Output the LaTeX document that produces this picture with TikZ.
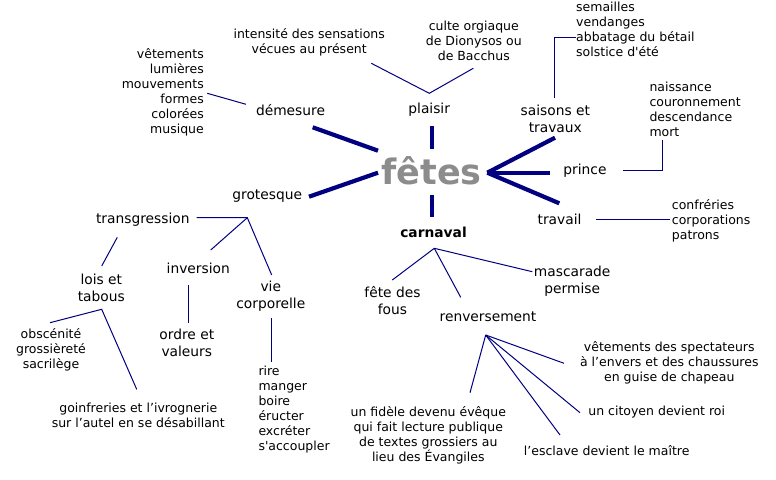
\documentclass[tikz,border=0pt]{standalone}
\usepackage{fontspec}
\setmainfont{DejaVu Sans}
\newfontfamily\dvs{DejaVu Sans}
\definecolor{navy}{HTML}{000080}
\definecolor{fgray}{HTML}{8C8C8C}
\tikzset{
  conn/.style={draw=navy, line width=1pt},
  mainline/.style={draw=navy, line width=4.2pt},
  lbl/.style={font=\dvs\fontsize{13.8}{17}\selectfont, align=center, inner sep=0pt},
  sm/.style={font=\dvs\fontsize{12.5}{15}\selectfont, inner sep=0pt},
}
\begin{document}
\begin{tikzpicture}[x=1pt,y=-1pt]
\useasboundingbox[fill=white] (0,0) rectangle (776,479);
% central
\node[inner sep=0pt, text=fgray, font=\dvs\fontsize{35}{40}\selectfont\bfseries] (fetes) at (431.5,171) {fêtes};
% main labels
\node[lbl] (demesure) at (290.5,110) {démesure};
\node[lbl] (plaisir) at (429.2,110) {plaisir};
\node[lbl] (saisons) at (555.3,119) {saisons et\\travaux};
\node[lbl] (prince) at (585,170.7) {prince};
\node[lbl] (travail) at (559.5,219) {travail};
\node[lbl] (grotesque) at (267.2,196) {grotesque};
\node[lbl, font=\dvs\fontsize{13.8}{17}\selectfont\bfseries] (carnaval) at (433.5,232.7) {carnaval};
% thick connectors
\coordinate (d1) at (312.7,127.3); \coordinate (d2) at (378,150.7);
\coordinate (p1) at (431.7,126); \coordinate (p2) at (431.7,149.3);
\coordinate (g1) at (309,196.7); \coordinate (g2) at (378,172.7);
\coordinate (c1) at (431.7,195); \coordinate (c2) at (431.7,216.7);
\coordinate (rh) at (487.3,172.7);
\coordinate (s1) at (555,137.7); \coordinate (pr1) at (550,172.7); \coordinate (t1) at (559.3,203.3);
\draw[mainline] (d1) -- (d2);
\draw[mainline] (p1) -- (p2);
\draw[mainline] (g1) -- (g2);
\draw[mainline] (c1) -- (c2);
\draw[mainline] (rh) -- (s1);
\draw[mainline] (rh) -- (pr1);
\draw[mainline] (rh) -- (t1);
% démesure
\node[sm, anchor=east, align=right] (demlist) at (204,91.8) {vêtements\\lumières\\mouvements\\formes\\colorées\\musique};
\coordinate (dl1) at (207.3,93.3); \coordinate (dl2) at (246,104.3);
\draw[conn] (dl1) -- (dl2);
% plaisir
\node[sm, align=center] (intensite) at (309.2,42.5) {intensité des sensations\\vécues au présent};
\node[sm, align=center] (culte) at (473.8,40.5) {culte orgiaque\\de Dionysos ou\\de Bacchus};
\coordinate (pl1) at (371.3,63.3); \coordinate (plh) at (429.3,93.3); \coordinate (pl2) at (473.3,68.3);
\draw[conn] (pl1) -- (plh) -- (pl2);
% saisons
\node[sm, anchor=west, align=left] (semailles) at (576,29.7) {semailles\\vendanges\\abbatage du bétail\\solstice d'été};
\coordinate (sa1) at (554,98.3); \coordinate (sa2) at (554,37.7); \coordinate (sa3) at (576,37.7);
\draw[conn] (sa1) -- (sa2) -- (sa3);
% prince
\node[sm, anchor=west, align=left] (naissance) at (649.3,109) {naissance\\couronnement\\descendance\\mort};
\coordinate (pc1) at (622.7,170.7); \coordinate (pc2) at (662.7,170.7); \coordinate (pc3) at (662.7,140);
\draw[conn] (pc1) -- (pc2) -- (pc3);
% travail
\node[sm, anchor=west, align=left] (confreries) at (671.7,220.7) {confréries\\corporations\\patrons};
\coordinate (tr1) at (596,219); \coordinate (tr2) at (670,219);
\draw[conn] (tr1) -- (tr2);
% grotesque
\node[lbl] (transgression) at (142.8,220) {transgression};
\node[lbl] (inversion) at (198.3,268.3) {inversion};
\node[lbl] (vie) at (270.8,296.3) {vie\\corporelle};
\coordinate (gh) at (247.3,217.7);
\coordinate (gt) at (196.7,217.7); \coordinate (gi) at (210.7,250); \coordinate (gv) at (271.7,275);
\draw[conn] (gt) -- (gh) -- (gv);
\draw[conn] (gh) -- (gi);
\node[lbl] (lois) at (101.3,287.7) {lois et\\tabous};
\coordinate (tl1) at (117.3,237.3); \coordinate (tl2) at (101.7,266);
\draw[conn] (tl1) -- (tl2);
\node[lbl] (ordre) at (186.8,343.3) {ordre et\\valeurs};
\coordinate (io1) at (188.7,285); \coordinate (io2) at (188.7,322.7);
\draw[conn] (io1) -- (io2);
\coordinate (lh) at (101.7,309.3); \coordinate (lo) at (50,322.7); \coordinate (lg) at (136.7,389.3);
\draw[conn] (lo) -- (lh) -- (lg);
\node[sm, align=center] (obscenite) at (51,350) {obscénité\\grossièreté\\sacrilège};
\node[sm, align=center] (goinfreries) at (138.3,415) {goinfreries et l’ivrognerie\\sur l’autel en se désabillant};
\coordinate (vr1) at (271,318.3); \coordinate (vr2) at (271,362.3);
\draw[conn] (vr1) -- (vr2);
\node[sm, anchor=west, align=left] (rire) at (258.3,409.2) {rire\\manger\\boire\\éructer\\excréter\\s'accoupler};
% carnaval
\coordinate (ch) at (434.3,248.3);
\coordinate (cf) at (392.3,280); \coordinate (cr) at (460.7,297.3); \coordinate (cm) at (532.3,271.7);
\draw[conn] (cf) -- (ch) -- (cm);
\draw[conn] (ch) -- (cr);
\node[lbl] (fous) at (392.5,300.8) {fête des\\fous};
\node[lbl] (renversement) at (488,316.7) {renversement};
\node[lbl] (mascarade) at (572.2,280.7) {mascarade\\permise};
\coordinate (rh2) at (485.7,335);
\coordinate (rf) at (470,392.7); \coordinate (rv) at (564,363.3); \coordinate (rc) at (580,412.7); \coordinate (re) at (560,435);
\draw[conn] (rh2) -- (rf);
\draw[conn] (rh2) -- (rv);
\draw[conn] (rh2) -- (rc);
\draw[conn] (rh2) -- (re);
\node[sm, align=center] (spectateurs) at (669.3,362.7) {vêtements des spectateurs\\à l’envers et des chaussures\\en guise de chapeau};
\node[sm] (citoyen) at (656.7,411.7) {un citoyen devient roi};
\node[sm] (esclave) at (606.7,451) {l’esclave devient le maître};
\node[sm, align=center] (fidele) at (428.3,435.2) {un fidèle devenu évêque\\qui fait lecture publique\\de textes grossiers au\\lieu des Évangiles};
\end{tikzpicture}
\end{document}
